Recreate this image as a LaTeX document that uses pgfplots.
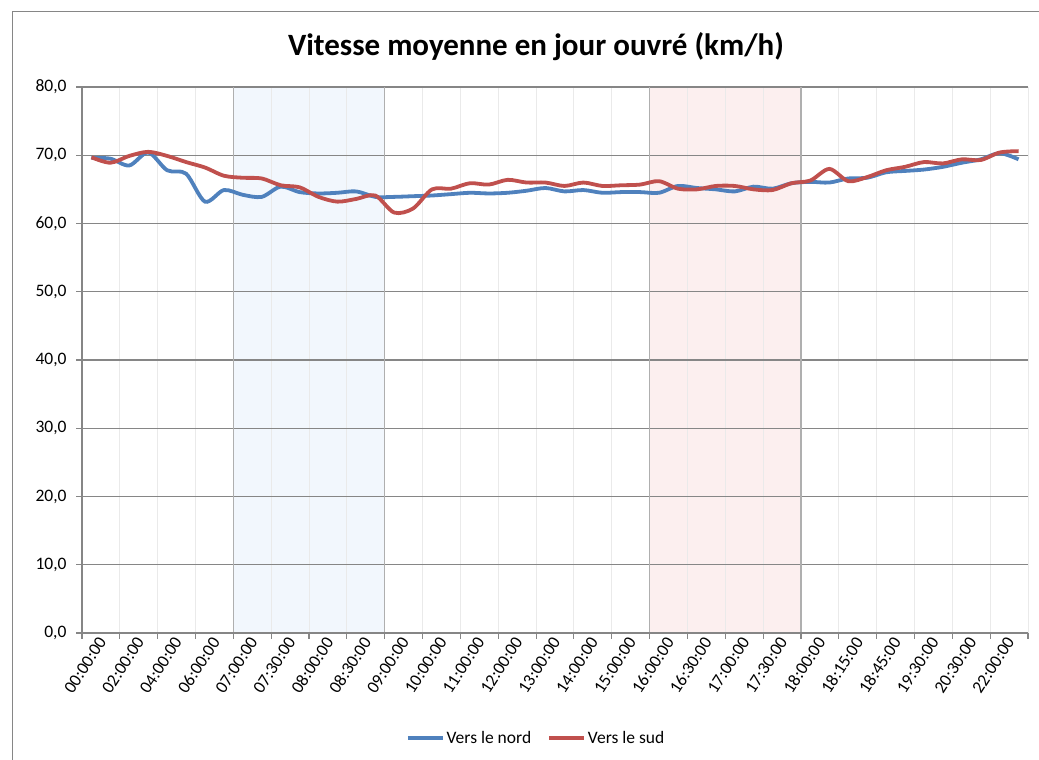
\documentclass[border=0pt]{standalone}
\usepackage{pgfplots}
\pgfplotsset{compat=1.18}
\usepackage{fontspec}
\setmainfont{Carlito}
\definecolor{nord}{RGB}{79,129,189}
\definecolor{sud}{RGB}{192,80,77}
\definecolor{gridc}{RGB}{134,134,134}
\definecolor{vgrid}{RGB}{234,234,234}
\definecolor{shadeb}{RGB}{242,247,253}
\definecolor{shader}{RGB}{252,239,239}
\definecolor{edge}{RGB}{175,175,175}
\pgfplotstableread{
i nord sud
0 69.6 69.7
1 69.5 68.9
2 68.5 69.9
3 70.4 70.5
4 67.8 69.9
5 67.3 69.0
6 63.2 68.2
7 64.9 67.0
8 64.2 66.7
9 63.9 66.6
10 65.4 65.6
11 64.6 65.3
12 64.4 63.9
13 64.5 63.2
14 64.7 63.6
15 63.9 64.1
16 63.9 61.6
17 64.0 62.2
18 64.1 65.0
19 64.3 65.1
20 64.5 65.9
21 64.4 65.7
22 64.5 66.4
23 64.8 66.0
24 65.2 66.0
25 64.7 65.5
26 64.9 66.0
27 64.5 65.5
28 64.6 65.6
29 64.6 65.7
30 64.5 66.2
31 65.5 65.1
32 65.2 65.0
33 65.0 65.5
34 64.7 65.5
35 65.4 65.0
36 65.1 64.9
37 65.9 65.9
38 66.1 66.3
39 66.0 68.0
40 66.6 66.2
41 66.7 66.8
42 67.5 67.8
43 67.7 68.3
44 67.9 69.0
45 68.3 68.8
46 68.9 69.4
47 69.4 69.3
48 70.3 70.4
49 69.4 70.6
}\speeds
\begin{document}
\begin{tikzpicture}[x=1bp,y=1bp]
\begin{axis}[
  set layers=standard,
  at={(82bp,127bp)}, anchor=south west,
  scale only axis, width=946bp, height=546bp,
  xmin=-0.5, xmax=49.5, ymin=0, ymax=80,
  axis x line*=bottom, axis y line*=left,
  axis line style={gridc, line width=1.1bp},
  ytick={0,10,...,80},
  ymajorgrids, major grid style={gridc, line width=1.1bp},
  xtick={0,2,...,48},
  xticklabels={00:00:00,02:00:00,04:00:00,06:00:00,07:00:00,07:30:00,08:00:00,08:30:00,09:00:00,10:00:00,11:00:00,12:00:00,13:00:00,14:00:00,15:00:00,16:00:00,16:30:00,17:00:00,17:30:00,18:00:00,18:15:00,18:45:00,19:30:00,20:30:00,22:00:00},
  minor xtick={-0.5,1.5,...,49.5},
  xminorgrids, minor grid style={vgrid, line width=1bp},
  tick align=outside,
  x tick style={draw=none},
  minor x tick style={draw=gridc, line width=1.1bp},
  minor tick length=6bp,
  y tick style={gridc, line width=1.1bp},
  major tick length=6bp,
  /pgf/number format/assume math mode=true,
  y tick label style={/pgf/number format/fixed, /pgf/number format/fixed zerofill, /pgf/number format/precision=1, /pgf/number format/use comma, anchor=east, xshift=-6bp},
  tick label style={font=\fontsize{17.5bp}{20bp}\selectfont, text=black},
  xticklabel style={rotate=57, anchor=east, inner sep=0pt, xshift=6bp, yshift=-9bp},
  legend style={at={(0.48,-0.192)}, anchor=center, draw=none, fill=none,
    legend columns=2, font=\fontsize{17.5bp}{20bp}\selectfont,
    /tikz/every even column/.append style={column sep=14bp}},
  legend image code/.code={\draw[#1, line width=3.8bp] (0bp,0bp) -- (35bp,0bp);},
  clip=false,
]
\begin{pgfonlayer}{axis background}
\fill[shadeb] (7.5,0) rectangle (15.5,80);
\fill[shader] (29.5,0) rectangle (37.5,80);
\end{pgfonlayer}
\begin{pgfonlayer}{axis grid}
\draw[edge, line width=1.1bp] (7.5,0) -- (7.5,80);
\draw[edge, line width=1.1bp] (15.5,0) -- (15.5,80);
\draw[edge, line width=1.1bp] (29.5,0) -- (29.5,80);
\draw[edge, line width=1.1bp] (37.5,0) -- (37.5,80);
\end{pgfonlayer}
\addplot[nord, line width=3.8bp, smooth, tension=0.5] table[x=i, y=nord] {\speeds};
\addlegendentry{Vers le nord}
\addplot[sud, line width=3.8bp, smooth, tension=0.5] table[x=i, y=sud] {\speeds};
\addlegendentry{Vers le sud}
\end{axis}
\node[font=\fontsize{31bp}{36bp}\selectfont\bfseries] at (536bp,713bp) {Vitesse moyenne en jour ouvré (km/h)};
\draw[gridc, line width=1bp] (12bp,0bp) -- (12bp,748bp) -- (1039bp,748bp);
\pgfresetboundingbox
\useasboundingbox (0bp,0bp) rectangle (1039bp,760bp);
\end{tikzpicture}
\end{document}
